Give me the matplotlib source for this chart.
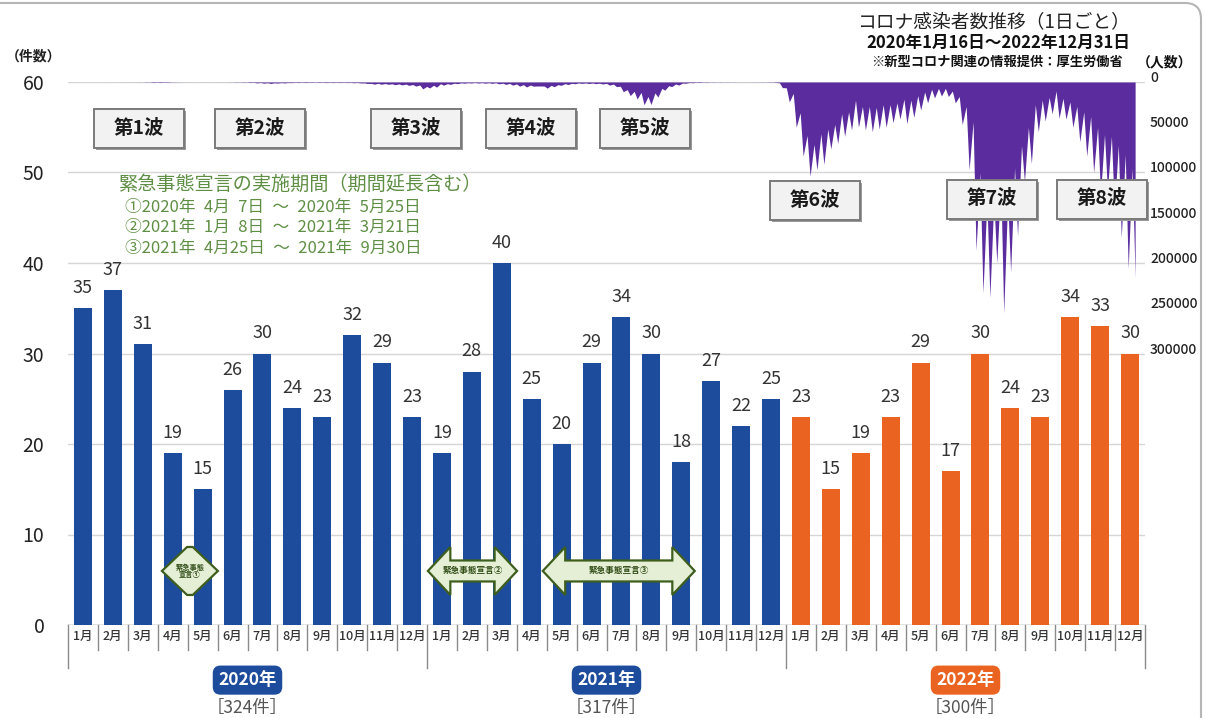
import numpy as np
import matplotlib
matplotlib.use("Agg")
import matplotlib.pyplot as plt
from matplotlib.patches import FancyBboxPatch, Polygon, Rectangle
from matplotlib.transforms import ScaledTranslation, IdentityTransform

plt.rcParams['font.family'] = ['Noto Sans CJK JP', 'DejaVu Sans']

# ---------------- data ----------------
years = ['2020年', '2021年', '2022年']
months = ['1月', '2月', '3月', '4月', '5月', '6月',
          '7月', '8月', '9月', '10月', '11月', '12月']
cases_2020 = [35, 37, 31, 19, 15, 26, 30, 24, 23, 32, 29, 23]
cases_2021 = [19, 28, 40, 25, 20, 29, 34, 30, 18, 27, 22, 25]
cases_2022 = [23, 15, 19, 23, 29, 17, 30, 24, 23, 34, 33, 30]

# Daily new infections (thousands of people), one weekly high (Thursday)
# and one weekly low (the following Monday), weeks counted from 2020-01-16.
weekly_peak = [
    0, 0, 0.003, 0.005, 0.01, 0.02, 0.03, 0.04, 0.055, 0.06,
    0.1, 0.24, 0.58, 0.58, 0.44, 0.19, 0.1, 0.05, 0.04, 0.05,
    0.04, 0.06, 0.07, 0.12, 0.25, 0.35, 0.6, 0.98, 1.3, 1.58,
    1.15, 1.0, 0.7, 0.6, 0.62, 0.5, 0.58, 0.64, 0.6, 0.62,
    0.62, 0.8, 1.05, 1.65, 2.38, 2.51, 2.5, 2.97, 3.2, 3.74,
    4.52, 7.57, 6.6, 5.65, 3.5, 2.6, 1.88, 1.3, 1.1, 1.15,
    1.3, 1.5, 2.0, 2.6, 3.45, 4.57, 5.5, 4.6, 4.4, 6.8,
    5.2, 3.7, 2.8, 1.95, 1.55, 1.7, 1.8, 2.2, 3.4, 5.0,
    10.7, 15.0, 18.8, 25.1, 24.9, 16.7, 9.0, 5.1, 3.4, 1.4,
    0.8, 0.61, 0.38, 0.25, 0.22, 0.19, 0.15, 0.12, 0.13, 0.16,
    0.18, 0.27,
    0.5, 6.2, 22.0, 50.0, 82.0, 104.0, 97.0, 91.0, 74.0, 68.0,
    60.0, 53.0, 50.0, 53.0, 55.0, 52.0, 50.0, 45.0, 41.0, 46.0,
    39.0, 31.0, 23.0, 17.5, 15.5, 16.0, 23.0, 47.0, 97.0, 186.0,
    233.0, 238.0, 200.0, 255.0, 210.0, 170.0, 110.0, 90.0, 55.0, 43.0,
    35.0, 40.0, 41.0, 50.0, 66.0, 82.0, 100.0, 125.0, 120.0, 140.0,
    172.0, 206.0, 216.0,
]
weekly_low = [
    0, 0, 0, 0.002, 0.005, 0.01, 0.015, 0.02, 0.03, 0.035,
    0.06, 0.15, 0.3, 0.35, 0.2, 0.11, 0.05, 0.03, 0.02, 0.03,
    0.025, 0.04, 0.05, 0.08, 0.14, 0.23, 0.4, 0.6, 0.8, 0.9,
    0.7, 0.6, 0.45, 0.35, 0.4, 0.3, 0.35, 0.4, 0.4, 0.4,
    0.5, 0.6, 1.0, 1.5, 1.4, 1.7, 2.0, 2.1, 2.3, 2.8,
    3.3, 4.9, 3.6, 1.9, 1.8, 1.3, 0.9, 0.8, 0.6, 0.7,
    0.8, 0.8, 1.3, 1.6, 2.1, 2.9, 3.3, 4.4, 4.5, 3.7,
    2.9, 1.8, 1.4, 1.0, 1.0, 1.1, 1.3, 1.5, 2.3, 4.7,
    8.4, 10.3, 11.5, 16.0, 12.0, 7.1, 4.1, 2.2, 1.1, 0.6,
    0.37, 0.23, 0.15, 0.1, 0.1, 0.08, 0.05, 0.07, 0.08, 0.09,
    0.12, 0.2,
    0.8, 6.4, 12.6, 34.0, 59.0, 69.0, 57.0, 52.0, 47.0, 35.0,
    33.0, 20.0, 27.0, 27.0, 28.0, 25.0, 25.0, 23.0, 19.0, 20.0,
    15.0, 11.0, 8.0, 7.0, 7.0, 10.0, 16.0, 27.0, 44.0, 100.0,
    130.0, 130.0, 110.0, 130.0, 95.0, 70.0, 50.0, 25.0, 20.0, 17.0,
    10.0, 18.0, 22.0, 27.0, 33.0, 38.0, 50.0, 58.0, 60.0, 70.0,
    80.0, 95.0,
]
people_ticks = [0, 50000, 100000, 150000, 200000, 250000, 300000]

waves = ['第1波', '第2波', '第3波', '第4波', '第5波', '第6波', '第7波', '第8波']
declaration_title = '緊急事態宣言の実施期間（期間延長含む）'
declaration_lines = ['①2020年\u20024月\u20027日\u2002～\u20022020年\u20025月25日',
                     '②2021年\u20021月\u20028日\u2002～\u20022021年\u20023月21日',
                     '③2021年\u20024月25日\u2002～\u20022021年\u20029月30日']

# ---------------- styling ----------------
BLUE = '#1d4c9c'
ORANGE = '#ea6320'
PURPLE = '#5a2c9e'
GREEN_TXT = '#5f8f45'
W, H = 1205, 718


def fx(px):
    return px / W


def fy(py):
    return 1 - py / H


fig = plt.figure(figsize=(W / 100, H / 100), dpi=100)
rect = [fx(68), fy(625), (1145 - 68) / W, (625 - 82) / H]

# bar chart of monthly counts
ax = fig.add_axes(rect, zorder=1)
values = cases_2020 + cases_2021 + cases_2022
colors = [BLUE] * 24 + [ORANGE] * 12
x = np.arange(len(values))
ax.bar(x, values, width=0.6, color=colors, zorder=2)
for xi, v in zip(x, values):
    ax.annotate(str(v), (xi, v), xytext=(0, 14.5), textcoords='offset points',
                ha='center', va='center', fontsize=13, color='#333333', zorder=3)

ax.set_xlim(-0.5, len(values) - 0.5)
ax.set_ylim(0, 60)
ax.set_yticks(range(0, 61, 10))
ax.tick_params(axis='y', length=0, pad=17, labelsize=14, labelcolor='#222222')
ax.set_xticks([])
for s in ax.spines.values():
    s.set_visible(False)
ax.grid(axis='y', color='#d6d6d6', lw=1, zorder=0)
ax.axhline(0, color='#8a8a8a', lw=1, zorder=1)

# month labels with separators, year badges and yearly totals
xt = ax.get_xaxis_transform()
for i in range(len(values)):
    ax.text(i, -0.0215, months[i % 12], transform=xt, ha='center', va='center',
            fontsize=9, color='#333333', weight='medium')
for b in range(len(values) + 1):
    yb = -0.079 if b % 12 == 0 else -0.046
    ax.plot([b - 0.5, b - 0.5], [0, yb], transform=xt, color='#8a8a8a',
            lw=1, clip_on=False)
totals = [sum(cases_2020), sum(cases_2021), sum(cases_2022)]
for k, (yr, tot) in enumerate(zip(years, totals)):
    cx = 12 * k + 5.5
    ax.text(cx, -0.1015, yr, transform=xt, ha='center', va='center',
            fontsize=12.5, weight='bold', color='white',
            bbox=dict(boxstyle='round,pad=0.32,rounding_size=0.45',
                      fc=ORANGE if k == 2 else BLUE, ec='none'))
    ax.text(cx, -0.153, f'［{tot}件］', transform=xt, ha='center',
            va='center', fontsize=12.5, color='#555555')

# emergency declaration double arrows
def double_arrow(x0, x1, yc, shaft, head, hl, label, fs):
    pts = [(x0, yc), (x0 + hl, yc + head), (x0 + hl, yc + shaft),
           (x1 - hl, yc + shaft), (x1 - hl, yc + head), (x1, yc),
           (x1 - hl, yc - head), (x1 - hl, yc - shaft), (x0 + hl, yc - shaft),
           (x0 + hl, yc - head)]
    ax.add_patch(Polygon(pts, closed=True, fc='#e5efd6', ec='#3e5e1e',
                         lw=1.6, zorder=4))
    ax.text((x0 + x1) / 2, yc, label, ha='center', va='center', fontsize=fs,
            color='#2f4a14', weight='bold', zorder=5, linespacing=1.1)


double_arrow(2.64, 4.51, 5.97, 2.65, 2.65, 0.84, '緊急事態\n宣言①', 5.2)
double_arrow(11.53, 14.51, 5.97, 1.16, 2.65, 0.75, '緊急事態宣言②', 6.2)
double_arrow(15.37, 20.45, 5.97, 1.16, 2.65, 0.75, '緊急事態宣言③', 6.2)

# daily infections, hanging down from the top of the plot
ax2 = fig.add_axes(rect, zorder=2)
ax2.patch.set_alpha(0)
peak_days = 7 * np.arange(len(weekly_peak))
low_days = peak_days[:len(weekly_low)] + 4
days, people = [], []
for k in range(len(weekly_peak)):
    days.append(peak_days[k])
    people.append(weekly_peak[k] * 1000)
    if k < len(weekly_low):
        days.append(low_days[k])
        people.append(weekly_low[k] * 1000)
ax2.fill_between(days, 0, people, color=PURPLE, lw=0)
ax2.set_xlim(-2, 1088)
ax2.set_ylim(600000, 0)
ax2.set_xticks([])
ax2.set_yticks([])
for s in ax2.spines.values():
    s.set_visible(False)
yt = ax2.get_yaxis_transform() + ScaledTranslation(0.05, 0.04, fig.dpi_scale_trans)
for t in people_ticks:
    ax2.text(1.0, t, str(t), transform=yt, ha='left', va='center',
             fontsize=10, color='#222222', weight='medium')

# wave labels
wave_centers = [(139, 128), (260, 128), (416, 128), (531, 128), (645, 128),
                (815, 200), (992, 199), (1102, 199)]
bw, bh = 90, 39
for name, (cx, cy) in zip(waves, wave_centers):
    fig.add_artist(Rectangle((fx(cx - bw / 2 + 2), fy(cy + bh / 2 + 2)),
                             bw / W, bh / H, transform=fig.transFigure,
                             fc='#9a9a9a', ec='none', zorder=9))
    fig.add_artist(Rectangle((fx(cx - bw / 2), fy(cy + bh / 2)), bw / W, bh / H,
                             transform=fig.transFigure, fc='#f2f2f2',
                             ec='#7a7a7a', lw=1.4, zorder=10))
    fig.text(fx(cx), fy(cy), name, ha='center', va='center', fontsize=14,
             weight='bold', color='#1a1a1a', zorder=11)

# declaration periods
fig.text(fx(118), fy(184), declaration_title, ha='left', va='center',
         fontsize=13.8, color=GREEN_TXT, zorder=11)
for j, line in enumerate(declaration_lines):
    fig.text(fx(125), fy(207 + 20.5 * j), line, ha='left', va='center',
             fontsize=12, color=GREEN_TXT, zorder=11)

# titles
fig.text(fx(1130), fy(22), 'コロナ感染者数推移（1日ごと）', ha='right', va='center',
         fontsize=13.5, color='#222222')
fig.text(fx(1130), fy(43), '2020年1月16日～2022年12月31日', ha='right',
         va='center', fontsize=12, weight='bold', color='#111111')
fig.text(fx(1123), fy(62), '※新型コロナ関連の情報提供：厚生労働省', ha='right',
         va='center', fontsize=9.5, weight='bold', color='#111111')
fig.text(fx(1137), fy(62), '（人数）', ha='left', va='center', fontsize=10,
         weight='bold', color='#111111')
fig.text(fx(6), fy(57), '（件数）', ha='left', va='center', fontsize=10,
         weight='bold', color='#222222')

# rounded frame
fig.add_artist(FancyBboxPatch((-30, -60), 1231, 775,
                              boxstyle='round,pad=0,rounding_size=16',
                              transform=IdentityTransform(), fill=False,
                              ec='#b5b5b5', lw=1.5, zorder=20))

fig.savefig('out.png', dpi=100)
